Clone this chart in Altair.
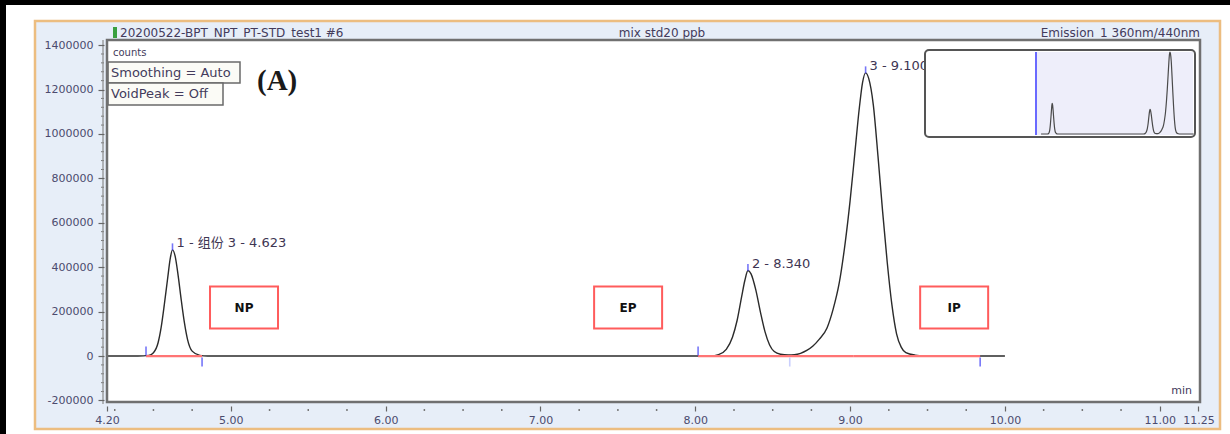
import altair as alt
import pandas as pd

# ---- chromatogram trace: retention time (min) and detector signal (counts) ----
rt_min = [4.20, 4.30, 4.40, 4.47, 4.50, 4.53, 4.55, 4.57, 4.59, 4.61, 4.623, 4.64,
          4.66, 4.68, 4.70, 4.72, 4.75, 4.80, 4.85, 5.00, 5.50, 6.00, 6.50, 7.00,
          7.50, 8.00, 8.10, 8.15, 8.20, 8.24, 8.27, 8.30, 8.32, 8.34, 8.36, 8.39,
          8.42, 8.45, 8.48, 8.51, 8.55, 8.60, 8.64, 8.68, 8.72, 8.76, 8.80, 8.85,
          8.89, 8.93, 8.97, 9.00, 9.03, 9.06, 9.08, 9.10, 9.12, 9.15, 9.18, 9.21,
          9.24, 9.27, 9.30, 9.33, 9.36, 9.42, 9.50, 9.70, 9.85, 10.00]
signal = [0, 0, 0, 3000, 15000, 60000, 130000, 230000, 340000, 445000, 478000, 450000,
          360000, 250000, 150000, 75000, 22000, 3000, 0, 0, 0, 0, 0, 0,
          0, 0, 0, 6000, 30000, 85000, 160000, 270000, 340000, 385000, 370000, 300000,
          200000, 110000, 50000, 20000, 8000, 5000, 6000, 12000, 25000, 45000, 75000, 125000,
          210000, 330000, 520000, 700000, 910000, 1120000, 1230000, 1275000, 1250000, 1130000, 900000, 650000,
          420000, 230000, 100000, 40000, 15000, 4000, 0, 0, 0, 0]

# ---- detected peaks ----
peak_rt = [4.623, 8.340, 9.100]
peak_height = [478000, 385000, 1275000]
peak_name = ["1 - 组份 3 - 4.623", "2 - 8.340", "3 - 9.100"]

# integration baselines and peak delimiters
base_start = [4.452, 8.018, 9.020]
base_end = [4.814, 9.020, 9.840]
delim_up = [4.452, 8.018]
delim_down = [4.814, 9.840]
valley_rt = [8.61]

# region annotations
region_name = ["NP", "EP", "IP"]
region_rt = [5.085, 7.566, 9.672]
region_level = [218000, 218000, 218000]

# axis ticks
x_major = [4.2, 5.0, 6.0, 7.0, 8.0, 9.0, 10.0, 11.0, 11.25]
x_minor = [4.25, 4.5, 4.75, 5.25, 5.5, 5.75, 6.25, 6.5, 6.75, 7.25, 7.5, 7.75,
           8.25, 8.5, 8.75, 9.25, 9.5, 9.75, 10.25, 10.5, 10.75]
y_major = [-200000, 0, 200000, 400000, 600000, 800000, 1000000, 1200000, 1400000]
y_minor = [-160000, -120000, -80000, -40000, 40000, 80000, 120000, 160000,
           240000, 280000, 320000, 360000, 440000, 480000, 520000, 560000,
           640000, 680000, 720000, 760000, 840000, 880000, 920000, 960000,
           1040000, 1080000, 1120000, 1160000, 1240000, 1280000, 1320000, 1360000]

W, H = 1093, 362
FONT = "DejaVu Sans"
TXT = "#433b5c"

trace = pd.DataFrame({"rt": rt_min, "sig": signal})
peaks = pd.DataFrame({"rt": peak_rt, "sig": peak_height, "name": peak_name})
bases = pd.DataFrame({"rt": base_start, "rt2": base_end, "sig": [0] * len(base_start)})
dup = pd.DataFrame({"rt": delim_up, "sig": [0] * len(delim_up)})
ddown = pd.DataFrame({"rt": delim_down, "sig": [0] * len(delim_down)})
dvalley = pd.DataFrame({"rt": valley_rt, "sig": [0] * len(valley_rt)})
regions = pd.DataFrame({"rt": region_rt, "sig": region_level, "name": region_name})
xminor = pd.DataFrame({"rt": x_minor})
yminor = pd.DataFrame({"sig": y_minor})
one = pd.DataFrame({"k": [0]})

xs = alt.Scale(domain=[4.2, 11.26], nice=False, zero=False)
ys = alt.Scale(domain=[-207000, 1423000], nice=False, zero=False)

x_axis = alt.Axis(values=x_major, format=".2f", title=None, grid=False, domain=False,
                  offset=4, tickSize=5, tickColor="#666666", tickWidth=1.2, labelPadding=3,
                  labelFont=FONT, labelFontSize=11, labelColor="#4b4b6e",
                  labelOverlap=False, labelFlush=False, zindex=1)
y_axis = alt.Axis(values=y_major, title=None, grid=False, domain=False,
                  labelExpr="(datum.value < 0 ? '-' : '') + format(abs(datum.value), 'd')",
                  offset=3, tickSize=6, tickColor="#666666", tickWidth=1.2, labelPadding=5,
                  labelFont=FONT, labelFontSize=11, labelColor="#4b4b6e", zindex=1)

X = alt.X("rt:Q", scale=xs, axis=x_axis)
Y = alt.Y("sig:Q", scale=ys, axis=y_axis)


def box(x, x2, y, y2, **kw):
    return alt.Chart(one).mark_rect(**kw).encode(
        x=alt.value(x), x2=alt.value(x2), y=alt.value(y), y2=alt.value(y2))


def label(x, y, text, **kw):
    return alt.Chart(one).mark_text(text=text, **kw).encode(x=alt.value(x), y=alt.value(y))


# frame around the report page
frame = [
    box(-107, -101, -40, 394, fill="black"),
    box(-107, 1123, -40, -35, fill="black"),
    box(-72, 1113, -19, 389, fill="#e7eef8", stroke="#ecbd80", strokeWidth=2.5),
    box(6, 10, -13, -2, fill="#3aa040"),
    label(13, -7, "20200522-BPT_NPT_PT-STD_test1 #6", align="left", baseline="middle",
          font=FONT, fontSize=12, color=TXT),
    label(555, -7, "mix std20 ppb", align="center", baseline="middle",
          font=FONT, fontSize=12, color=TXT),
    label(1093, -7, "Emission_1 360nm/440nm", align="right", baseline="middle",
          font=FONT, fontSize=12, color=TXT),
    box(0, W, 0, H, fill="white"),
]

line = alt.Chart(trace).mark_line(color="#2b2b2b", strokeWidth=1.4,
                                  interpolate="monotone").encode(x=X, y=Y)

red = alt.Chart(bases).mark_rule(color="#ff7474", strokeWidth=2.2).encode(
    x=X, x2="rt2:Q", y=Y)

tick_kw = dict(orient="vertical", thickness=1.6, size=9)
up = alt.Chart(dup).mark_tick(color="#3c3cf5", yOffset=-5, **tick_kw).encode(x=X, y=Y)
down = alt.Chart(ddown).mark_tick(color="#3c3cf5", yOffset=6, **tick_kw).encode(x=X, y=Y)
valley = alt.Chart(dvalley).mark_tick(color="#b4bafc", yOffset=6, **tick_kw).encode(x=X, y=Y)
apex = alt.Chart(peaks).mark_tick(color="#3c3cf5", yOffset=-3, orient="vertical",
                                  thickness=1.6, size=7).encode(x=X, y=Y)
names = alt.Chart(peaks).mark_text(align="left", baseline="middle", dx=4, dy=-7,
                                   font=FONT + ", Noto Sans CJK SC", fontSize=13,
                                   color="#3e3552").encode(x=X, y=Y, text="name:N")

reg_box = alt.Chart(regions).mark_rect(width=68, height=42, fill="white",
                                       stroke="#ff5c5c", strokeWidth=2).encode(x=X, y=Y)
reg_txt = alt.Chart(regions).mark_text(font=FONT, fontSize=12, fontWeight="bold",
                                       color="#111111").encode(x=X, y=Y, text="name:N")

minor_x = alt.Chart(xminor).mark_rule(color="#777777", strokeWidth=1.5).encode(
    x=X, y=alt.value(H + 7), y2=alt.value(H + 9))
minor_y = alt.Chart(yminor).mark_rule(color="#777777", strokeWidth=1).encode(
    y=Y, x=alt.value(-6), x2=alt.value(-3))

notes = [
    label(6, 13, "counts", align="left", baseline="middle", font=FONT, fontSize=10,
          color=TXT),
    box(1, 133, 22, 43, fill="#fbfbf6", stroke="#6a6a6a", strokeWidth=1.5),
    box(1, 116, 43, 65, fill="#fbfbf6", stroke="#6a6a6a", strokeWidth=1.5),
    label(4, 33, "Smoothing = Auto", align="left", baseline="middle", font=FONT,
          fontSize=13, color=TXT),
    label(4, 54, "VoidPeak = Off", align="left", baseline="middle", font=FONT,
          fontSize=13, color=TXT),
    label(150, 41, "(A)", align="left", baseline="middle", font="Liberation Serif",
          fontSize=29, fontWeight="bold", color="#1a1a1a"),
    label(1085, 351, "min", align="right", baseline="middle", font=FONT, fontSize=11,
          color=TXT),
    # overview pane
    box(818, 1088, 10, 97, fill="white", stroke="#555555", strokeWidth=2, cornerRadius=4),
    box(929, 1086, 12, 95, fill="#eeeefa"),
    box(928, 930, 12, 95, fill="#6a6aff"),
]

border = [
    box(0, W, 0, H, fill=None, stroke="#707070", strokeWidth=2.5),
    alt.Chart(one).mark_rule(color="#8a8a8a", strokeWidth=1.2).encode(
        x=alt.value(-4), y=alt.value(0), y2=alt.value(H + 2)),
]

main = alt.layer(*frame, minor_x, minor_y, line, red, up, down, valley, apex, names,
                 reg_box, reg_txt, *notes, *border)

# overview trace drawn on its own scales inside the pane
overview = alt.Chart(trace).mark_line(color="#4a4a4a", strokeWidth=1.2,
                                      interpolate="monotone").encode(
    x=alt.X("rt:Q", scale=alt.Scale(domain=[0, 10], range=[823.6, 1086.6], nice=False,
                                    zero=False), axis=None),
    y=alt.Y("sig:Q", scale=alt.Scale(domain=[0, 1275000], range=[94, 12], nice=False),
            axis=None),
)

chart = alt.layer(main, overview).resolve_scale(
    x="independent", y="independent"
).properties(
    width=W, height=H,
    padding={"left": 107, "top": 40, "right": 30, "bottom": 32},
    autosize=alt.AutoSizeParams(type="none"),
    background="white",
).configure_view(stroke=None)

chart.save("out.html", embed_options={"renderer": "svg", "actions": False})
